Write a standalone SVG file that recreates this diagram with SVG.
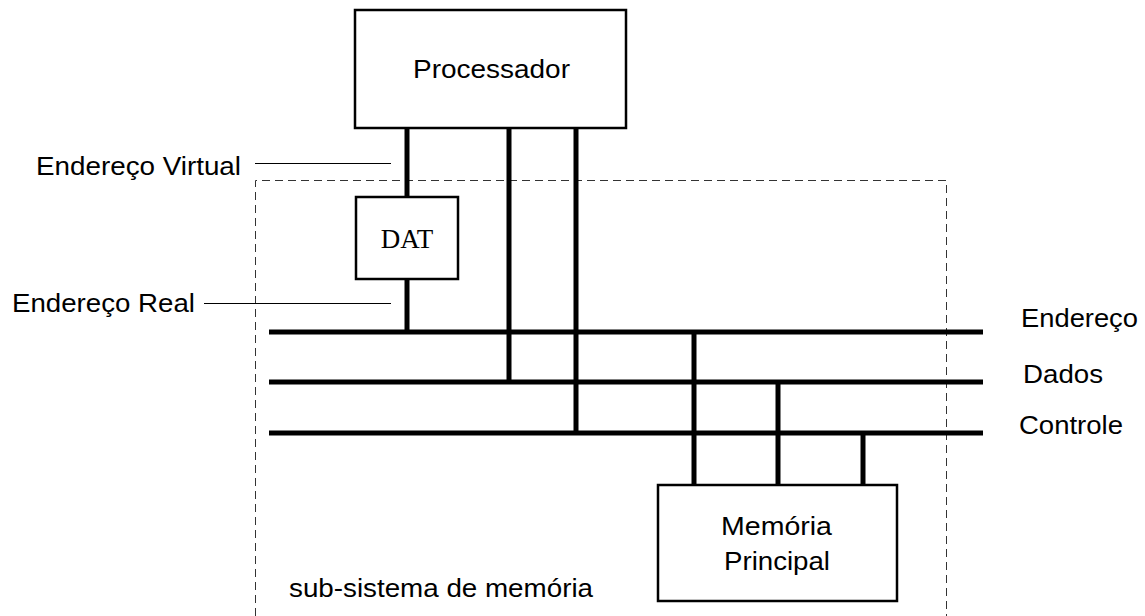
<svg xmlns="http://www.w3.org/2000/svg" width="1145" height="616" viewBox="0 0 1145 616">
<style>
.box{fill:#fff;stroke:#000;stroke-width:2.5}
.bus{stroke:#000;stroke-width:5;fill:none}
.lead{stroke:#000;stroke-width:1;fill:none}
.dash{stroke:#333;stroke-width:1;fill:none;stroke-dasharray:8 5}
.t{font-family:"Liberation Sans",Arial,sans-serif;font-size:26px;fill:#000}
.s{font-family:"Liberation Serif","Times New Roman",serif;font-size:27px;fill:#000}
</style>
<rect width="1145" height="616" fill="#fff"/>
<g id="subsistema">
<path class="dash" d="M255.5,616 V180.5 H946.5 V616"/>
<text class="t" x="289" y="597" textLength="304" lengthAdjust="spacingAndGlyphs">sub-sistema de memória</text>
</g>
<g id="connectors">
<line class="bus" x1="269" y1="332" x2="983" y2="332"/>
<line class="bus" x1="269" y1="382" x2="983" y2="382"/>
<line class="bus" x1="269" y1="433" x2="983" y2="433"/>
<line class="bus" x1="407" y1="128" x2="407" y2="197"/>
<line class="bus" x1="407" y1="279" x2="407" y2="334"/>
<line class="bus" x1="509" y1="128" x2="509" y2="384"/>
<line class="bus" x1="576" y1="128" x2="576" y2="435"/>
<line class="bus" x1="694" y1="330" x2="694" y2="485"/>
<line class="bus" x1="778" y1="380" x2="778" y2="485"/>
<line class="bus" x1="863" y1="431" x2="863" y2="485"/>
<line class="lead" x1="255" y1="163.5" x2="391" y2="163.5"/>
<line class="lead" x1="204" y1="303.5" x2="391" y2="303.5"/>
</g>
<g id="processador">
<rect class="box" x="355" y="10" width="271" height="118"/>
<text class="t" x="413" y="78" textLength="157" lengthAdjust="spacingAndGlyphs">Processador</text>
</g>
<g id="dat">
<rect class="box" x="356" y="197" width="102" height="82"/>
<text class="s" x="407" y="248" text-anchor="middle">DAT</text>
</g>
<g id="memoria">
<rect class="box" x="658" y="485" width="239" height="116"/>
<text class="t" x="721" y="535" textLength="111" lengthAdjust="spacingAndGlyphs">Memória</text>
<text class="t" x="724" y="570" textLength="106" lengthAdjust="spacingAndGlyphs">Principal</text>
</g>
<g id="labels">
<text class="t" x="36" y="175" textLength="205" lengthAdjust="spacingAndGlyphs">Endereço Virtual</text>
<text class="t" x="12" y="312" textLength="183" lengthAdjust="spacingAndGlyphs">Endereço Real</text>
<text class="t" x="1021" y="327" textLength="117" lengthAdjust="spacingAndGlyphs">Endereço</text>
<text class="t" x="1023" y="383" textLength="80" lengthAdjust="spacingAndGlyphs">Dados</text>
<text class="t" x="1019" y="434" textLength="104" lengthAdjust="spacingAndGlyphs">Controle</text>
</g>
</svg>
